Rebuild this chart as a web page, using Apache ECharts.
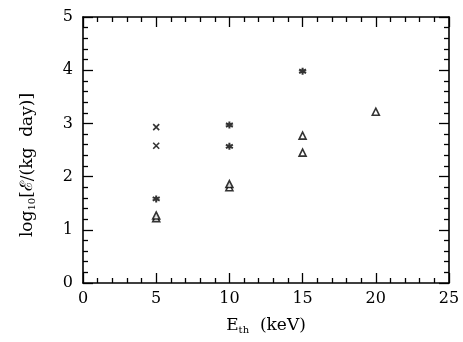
<!DOCTYPE html>
<html>
<head>
<meta charset="utf-8">
<script src="https://cdn.jsdelivr.net/npm/echarts@6/dist/echarts.min.js"></script>
<style>
  html, body { margin: 0; padding: 0; background: #fff; }
  #chart { width: 463px; height: 342px; }
</style>
</head>
<body>
<div id="chart"></div>
<script>
// 数据
var crossX = [5, 5];
var crossY = [2.93, 2.58];
var starX = [5, 10, 10, 15];
var starY = [1.58, 2.97, 2.57, 3.98];
var triX = [5, 5, 10, 10, 15, 15, 20];
var triY = [1.22, 1.27, 1.80, 1.86, 2.77, 2.45, 3.22];

function pairs(xs, ys) {
    var out = [];
    for (var i = 0; i < xs.length; i++) {
        out.push([xs[i], ys[i]]);
    }
    return out;
}

var FONT = '"DejaVu Serif", "Liberation Serif", serif';
var chart = echarts.init(document.getElementById('chart'));

var tickCommon = {
    axisLine: { show: true, onZero: false, lineStyle: { color: '#000', width: 1.6 } },
    axisTick: { show: true, inside: true, length: 10, lineStyle: { color: '#000', width: 1.3 } },
    minorTick: { show: true, splitNumber: 5, length: 5, lineStyle: { color: '#000', width: 1.3 } },
    splitLine: { show: false },
    minorSplitLine: { show: false }
};

function axis(extra) {
    return Object.assign({}, JSON.parse(JSON.stringify(tickCommon)), extra);
}

var starPath = 'path://M0,-5L0,5M-4.33,-2.5L4.33,2.5M-4.33,2.5L4.33,-2.5';
var crossPath = 'path://M-4,-4L4,4M-4,4L4,-4';

var option = {
    animation: false,
    grid: { left: 83, right: 14, top: 17, bottom: 59 },
    xAxis: [
        axis({
            type: 'value', min: 0, max: 25, interval: 5,
            axisLabel: { color: '#000', fontFamily: FONT, fontSize: 16, margin: 8 },
            name: 'E{sub|th}  (keV)',
            nameLocation: 'middle', nameGap: 34,
            nameTextStyle: {
                color: '#000', fontFamily: FONT, fontSize: 17,
                rich: { sub: { fontFamily: FONT, fontSize: 10, verticalAlign: 'bottom', padding: [8, 0, 0, 0] } }
            }
        }),
        axis({
            type: 'value', min: 0, max: 25, interval: 5, position: 'top',
            axisLabel: { show: false }
        })
    ],
    yAxis: [
        axis({
            type: 'value', min: 0, max: 5, interval: 1,
            axisLabel: { color: '#000', fontFamily: FONT, fontSize: 16, margin: 10 },
            name: 'log{sub|10}[ℰ/(kg  day)]',
            nameLocation: 'middle', nameGap: 46, nameRotate: 90,
            nameTextStyle: {
                color: '#000', fontFamily: FONT, fontSize: 17,
                padding: [0, 30, 0, 0],
                rich: { sub: { fontFamily: FONT, fontSize: 10, verticalAlign: 'bottom', padding: [8, 0, 0, 0] } }
            }
        }),
        axis({
            type: 'value', min: 0, max: 5, interval: 1, position: 'right',
            axisLabel: { show: false }
        })
    ],
    series: [
        {
            type: 'scatter', data: pairs(crossX, crossY),
            symbol: crossPath, symbolSize: 6,
            itemStyle: { color: 'transparent', borderColor: '#000', borderWidth: 1.6 }
        },
        {
            type: 'scatter', data: pairs(starX, starY),
            symbol: starPath, symbolSize: 7,
            itemStyle: { color: 'transparent', borderColor: '#000', borderWidth: 2 }
        },
        {
            type: 'scatter', data: pairs(triX, triY),
            symbol: 'triangle', symbolSize: 7,
            itemStyle: { color: '#fff', borderColor: '#000', borderWidth: 1.6 }
        }
    ]
};
chart.setOption(option);
</script>
</body>
</html>
